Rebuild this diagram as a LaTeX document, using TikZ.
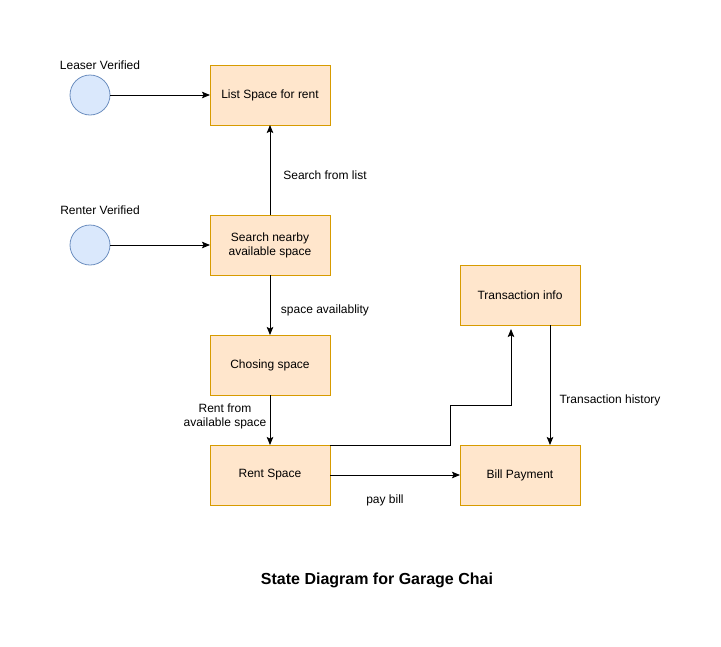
\documentclass[tikz,border=0pt]{standalone}
\usepackage{fontspec}
\setmainfont{Liberation Sans}
\usetikzlibrary{arrows.meta}
\definecolor{boxfill}{HTML}{FFE6CC}
\definecolor{boxdraw}{HTML}{D79B00}
\definecolor{cfill}{HTML}{DAE8FC}
\definecolor{cdraw}{HTML}{6C8EBF}
\tikzset{
  statebox/.style={draw=boxdraw, fill=boxfill, minimum width=120pt, minimum height=60pt, inner sep=0pt, outer sep=0pt, align=center, font=\fontsize{12}{14}\selectfont, line width=0.8pt},
  startc/.style={circle, draw=cdraw, fill=cfill, minimum size=40pt, inner sep=0pt, outer sep=0pt, line width=0.8pt},
  lbl/.style={font=\fontsize{12}{14}\selectfont, align=center, inner sep=0pt},
  conn/.style={-{Stealth[length=8pt,width=6.5pt,inset=1.5pt]}, line width=0.9pt}
}
\begin{document}
\begin{tikzpicture}[x=1pt,y=-1pt]
\useasboundingbox (0,0) rectangle (721,646);
\node[statebox] (list) at (270,95) {List Space for rent};
\node[statebox] (search) at (270,245) {Search nearby\\available space};
\node[statebox] (chose) at (270,365) {Chosing space};
\node[statebox] (rent) at (270,475) {Rent Space};
\node[statebox] (trans) at (520,295) {Transaction info};
\node[statebox] (bill) at (520,475) {Bill Payment};
\node[startc] (leaser) at (90,95) {};
\node[startc] (renter) at (90,245) {};
\node[lbl] (leaserl) at (100,65) {Leaser Verified};
\node[lbl] (renterl) at (100,210) {Renter Verified};
\draw[conn] (leaser) -- (list);
\draw[conn] (renter) -- (search);
\draw[conn] (search) -- (list);
\draw[conn] (search) -- (chose);
\draw[conn] (chose) -- (rent);
\draw[conn] (rent) -- (bill);
\coordinate (tin) at (511,329);
\coordinate (bend) at (450,405);
\draw[conn] (rent.north east) -| (bend) -| (tin);
\draw[conn] ([xshift=30pt]trans.south) -- ([xshift=30pt]bill.north);
\node[lbl] (l1) at (325,175) {Search from list};
\node[lbl] (l2) at (325,310) {space availablity};
\node[lbl] (l3) at (225,416) {Rent from\\available space};
\node[lbl] (l4) at (385,500) {pay bill};
\node[lbl] (l5) at (610,400) {Transaction history};
\node[font=\fontsize{16}{19}\selectfont\bfseries] (title) at (377,580) {State Diagram for Garage Chai};
\end{tikzpicture}
\end{document}
